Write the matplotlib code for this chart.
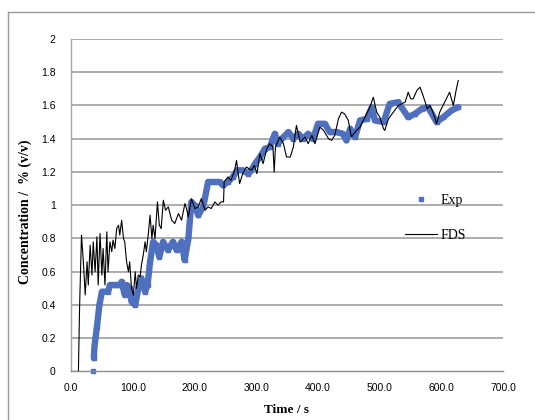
import matplotlib
matplotlib.use("Agg")
import matplotlib.pyplot as plt
from matplotlib.lines import Line2D

# Exp measurements (time s, concentration %)
t_exp = [35, 37, 38, 42, 46, 50, 60, 63, 72, 79, 82, 87, 90, 95, 98, 104, 109, 114,
         120, 124, 128, 133, 138, 143, 149, 157, 165, 171, 179, 184, 190, 195, 200,
         206, 214, 222, 232, 241, 246, 254, 262, 269, 278, 287, 292, 298, 306, 314,
         322, 330, 335, 344, 352, 360, 368, 376, 384, 392, 400, 411, 419, 430, 440,
         446, 452, 460, 468, 479, 487, 492, 506, 516, 530, 535, 546, 557, 568, 578,
         592, 603, 616, 627]
c_exp = [0.0, 0.08, 0.15, 0.27, 0.40, 0.48, 0.48, 0.52, 0.52, 0.52, 0.54, 0.46, 0.52,
         0.50, 0.42, 0.40, 0.50, 0.56, 0.48, 0.52, 0.66, 0.78, 0.76, 0.69, 0.78, 0.73,
         0.78, 0.73, 0.78, 0.67, 0.80, 1.02, 1.00, 0.94, 0.99, 1.14, 1.14, 1.14, 1.12,
         1.14, 1.17, 1.21, 1.21, 1.19, 1.21, 1.25, 1.29, 1.34, 1.35, 1.43, 1.37, 1.41,
         1.44, 1.40, 1.43, 1.40, 1.43, 1.40, 1.49, 1.49, 1.44, 1.44, 1.43, 1.39, 1.46,
         1.41, 1.51, 1.52, 1.59, 1.51, 1.50, 1.61, 1.62, 1.59, 1.53, 1.55, 1.58, 1.59,
         1.50, 1.53, 1.57, 1.59]

# FDS prediction
t_fds = [0, 12, 14, 17, 20, 23, 26, 28, 31, 34, 36, 39, 42, 44, 47, 50, 52, 55, 58,
         60, 63, 66, 68, 71, 74, 77, 79, 82, 85, 87, 90, 93, 95, 98, 101, 104, 106,
         109, 112, 114, 117, 120, 122, 125, 128, 131, 133, 136, 140, 143, 146, 149.5,
         153, 157.5, 163, 168, 174, 179, 184.5, 187, 190, 195, 200.5, 206, 211, 217,
         222, 227, 233, 238, 243, 247, 248, 254, 259, 265, 268, 270, 273, 278, 284,
         292, 297, 301, 306, 311, 317, 322, 327, 329, 331, 338, 344, 349, 355, 360,
         365, 371, 379, 384, 390, 395, 403, 409, 417, 422, 427, 433, 438, 443, 449,
         454, 460, 468, 476, 484, 489.5, 495, 500, 506, 508, 514, 522, 530, 541, 546,
         550, 554, 560, 565, 570, 577, 581, 586, 592, 597, 605, 613, 619, 624, 627]
c_fds = [0.0, 0.0, 0.40, 0.82, 0.66, 0.46, 0.66, 0.52, 0.76, 0.58, 0.78, 0.60, 0.81,
         0.52, 0.83, 0.58, 0.74, 0.52, 0.84, 0.60, 0.78, 0.72, 0.79, 0.74, 0.86, 0.88,
         0.82, 0.91, 0.80, 0.78, 0.66, 0.60, 0.66, 0.50, 0.46, 0.60, 0.50, 0.58, 0.57,
         0.64, 0.70, 0.78, 0.72, 0.82, 0.94, 0.80, 0.88, 0.80, 1.02, 0.88, 0.86, 1.03,
         0.97, 0.99, 0.91, 0.89, 0.95, 0.91, 1.01, 0.98, 0.93, 1.04, 0.98, 0.99, 1.04,
         0.97, 0.99, 0.98, 1.02, 1.00, 1.02, 1.02, 1.14, 1.17, 1.15, 1.21, 1.27, 1.21,
         1.13, 1.19, 1.23, 1.21, 1.24, 1.19, 1.31, 1.25, 1.34, 1.37, 1.35, 1.20, 1.35,
         1.41, 1.37, 1.29, 1.29, 1.35, 1.48, 1.38, 1.41, 1.37, 1.42, 1.37, 1.47, 1.45,
         1.40, 1.39, 1.42, 1.52, 1.56, 1.55, 1.51, 1.41, 1.44, 1.47, 1.53, 1.59, 1.65,
         1.56, 1.53, 1.46, 1.45, 1.52, 1.56, 1.60, 1.62, 1.68, 1.64, 1.64, 1.69, 1.71,
         1.66, 1.58, 1.60, 1.56, 1.49, 1.56, 1.62, 1.68, 1.60, 1.70, 1.75]

x_ticks = [0, 100, 200, 300, 400, 500, 600, 700]
y_ticks = [0, 0.2, 0.4, 0.6, 0.8, 1.0, 1.2, 1.4, 1.6, 1.8, 2.0]

blue = "#4f6fbf"
grid_c = "#a6a6a6"
serif = "Liberation Serif"
sans = "Liberation Sans"

fig = plt.figure(figsize=(5.35, 4.2), dpi=100)
ax = fig.add_axes([0.1327, 0.1155, 0.8081, 0.7917])

# outer chart border (cut off at the bottom/right like the screenshot)
fig.add_artist(Line2D([8 / 535, 8 / 535], [-0.1, 1 - 12 / 420], color="#999999", lw=1.0))
fig.add_artist(Line2D([8 / 535, 1.1], [1 - 12 / 420, 1 - 12 / 420], color="#999999", lw=1.0))

for y in y_ticks[1:]:
    ax.axhline(y, color=grid_c, lw=1.3, zorder=1)

# thick band of Exp squares, first reading sits alone on the axis
ax.plot(t_exp[1:], c_exp[1:], color=blue, lw=4.6, solid_capstyle="round",
        solid_joinstyle="round", zorder=2)
ax.plot(t_exp, c_exp, ls="none", marker="s", ms=3.2, color=blue, zorder=2,
        clip_on=False)
ax.plot(t_fds, c_fds, color="black", lw=0.8, zorder=3)

ax.set_xlim(0, 700)
ax.set_ylim(0, 2)
ax.set_xticks(x_ticks)
ax.set_xticklabels([f"{v:.1f}" for v in x_ticks], fontname=sans, fontsize=7.5)
ax.set_yticks(y_ticks)
ax.set_yticklabels([f"{v:g}" for v in y_ticks], fontname=sans, fontsize=7.5)
ax.tick_params(length=0, pad=11)
ax.tick_params(axis="x", pad=8)

for s in ["top", "right"]:
    ax.spines[s].set_visible(False)
ax.spines["left"].set_color(grid_c)
ax.spines["bottom"].set_color("#8c8c8c")
ax.spines["left"].set_linewidth(1.0)
ax.spines["bottom"].set_linewidth(1.0)

fig.text(287 / 535, 1 - 410 / 420, "Time / s", fontname=serif, fontweight="bold",
         fontsize=9.5, ha="center", va="center")
fig.text(25 / 535, 1 - 212 / 420, "Concentration /  % (v/v)", fontname=serif,
         fontweight="bold", fontsize=10, ha="center", va="center", rotation=90)

h_exp = Line2D([], [], ls="none", marker="s", ms=2.2, color=blue)
h_fds = Line2D([], [], color="black", lw=0.8)
leg = ax.legend([h_exp, h_fds], ["Exp", "FDS"], loc="upper left",
                bbox_to_anchor=(405 / 535, 1 - 194 / 420), bbox_transform=fig.transFigure,
                frameon=False, handlelength=2.3, handletextpad=0.25, labelspacing=1.55,
                borderpad=0, borderaxespad=0, prop={"family": serif, "size": 10})

fig.savefig("out.png", dpi=100)
